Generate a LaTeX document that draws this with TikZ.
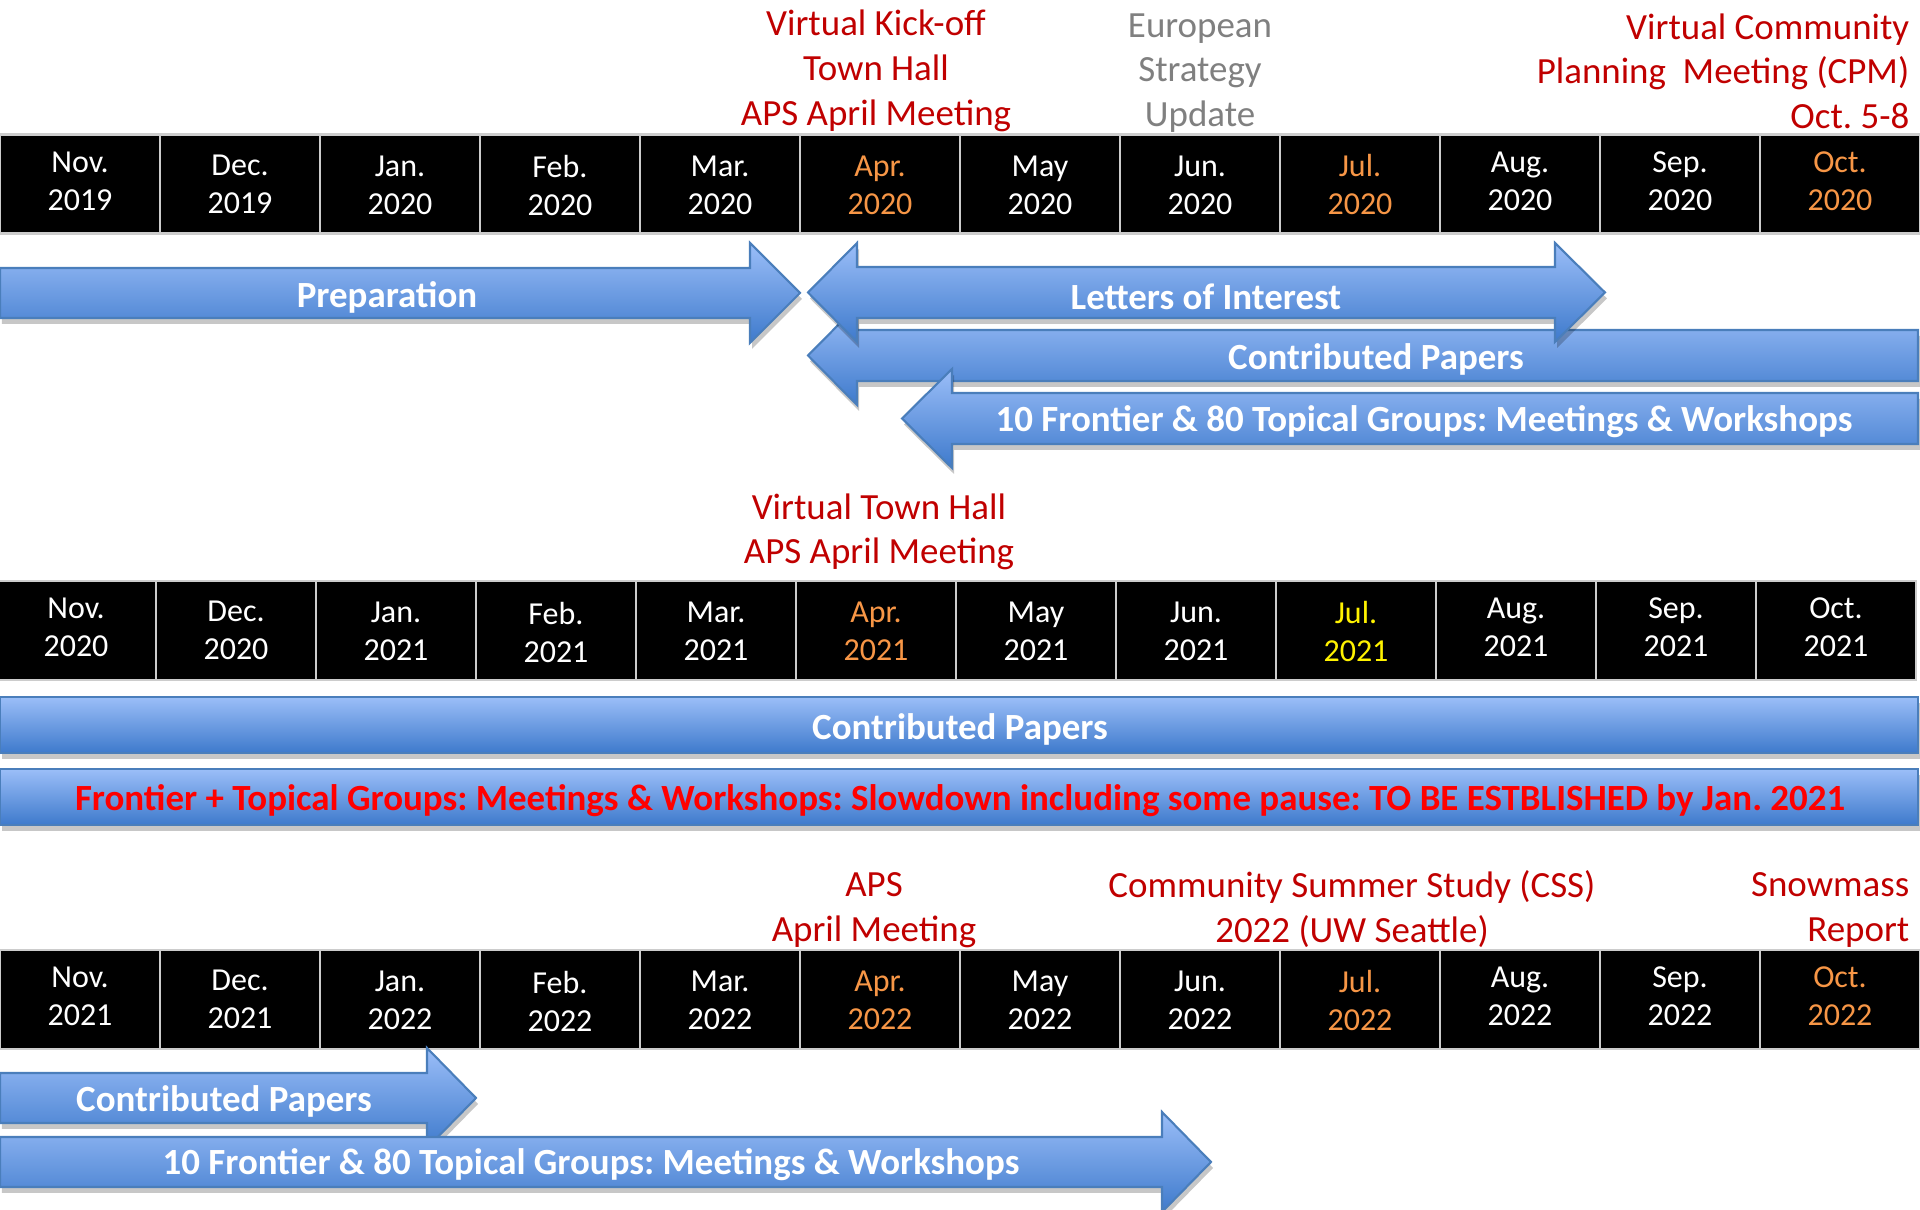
\documentclass[tikz,border=0pt]{standalone}
\usepackage{fontspec}
\setmainfont{Carlito}
\usepackage{tikz}
\definecolor{barTop}{RGB}{155,190,248}
\definecolor{barBot}{RGB}{62,122,204}
\definecolor{barLine}{RGB}{74,126,187}
\definecolor{evRed}{RGB}{192,0,0}
\definecolor{evGray}{RGB}{128,128,128}
\definecolor{monOrange}{RGB}{247,150,70}
\frenchspacing

\begin{document}
\begin{tikzpicture}[x=0.01cm,y=-0.01cm,
  cell/.style={fill=black, draw=white!80!black, line width=0.8pt, minimum width=1.6cm, minimum height=0.99cm, inner sep=0pt},
  mon/.style={text=white, align=center, font=\fontsize{9.1}{10.8}\selectfont, inner sep=0pt},
  event/.style={text=evRed, align=center, font=\fontsize{10.5}{12.7}\selectfont, inner sep=0pt},
  band/.style={top color=barTop, bottom color=barBot, draw=barLine, line width=0.6pt,
    preaction={fill=black, fill opacity=0.22, transform canvas={shift={(2,6)}}}},
  bandtext/.style={text=white, font=\bfseries\fontsize{10.5}{12.7}\selectfont, inner sep=0pt}]
\useasboundingbox (0,0) rectangle (1920,1210);
\clip (0,0) rectangle (1920,1210);

% 2019--2020
\node [event] (ev-kick) at (876,71) {Virtual Kick-off\\Town Hall\\APS April Meeting};
\node [event, text=evGray] (ev-esu) at (1200,73) {European\\Strategy\\Update};
\node [event, anchor=east, align=right] (ev-cpm) at (1910,71) {Virtual Community\\Planning~ Meeting (CPM)\\Oct. 5-8};
\foreach \i/\m/\yr/\col/\dy in {0/Nov./2019/white/-3, 1/Dec./2019/white/0, 2/Jan./2020/white/1,
    3/Feb./2020/white/2, 4/Mar./2020/white/1, 5/Apr./2020/monOrange/1, 6/May/2020/white/1,
    7/Jun./2020/white/1, 8/Jul./2020/monOrange/1, 9/Aug./2020/white/-3, 10/Sep./2020/white/-3,
    11/Oct./2020/monOrange/-3}{
  \node [cell] (a\i) at (\i*160+80,184) {};
  \node [mon, text=\col] (ta\i) at (\i*160+80,184+\dy) {\m\\\yr};
}
\shade [band] (1918,330) -- (857,330) -- (857,306) -- (808,355.5) -- (857,405) -- (857,381) -- (1918,381) -- cycle;
\shade [band] (1918,393) -- (952,393) -- (952,369) -- (902,418.5) -- (952,468) -- (952,444) -- (1918,444) -- cycle;
\shade [band] (857,267) -- (1555,267) -- (1555,243) -- (1605,292.5) -- (1555,342) -- (1555,318)
  -- (857,318) -- (857,342) -- (808,292.5) -- (857,243) -- cycle;
\shade [band] (0,268) -- (750,268) -- (750,243) -- (800,293) -- (750,343) -- (750,318) -- (0,318) -- cycle;
\node [bandtext] (prep) at (387,297) {Preparation};
\node [bandtext] (loi) at (1206,297) {Letters of Interest};
\node [bandtext] (cp-a) at (1376,359) {Contributed Papers};
\node [bandtext] (grp-a) at (1424,422) {10 Frontier \& 80 Topical Groups: Meetings \& Workshops};

% 2020--2021
\node [event] (ev-th) at (879,532) {Virtual Town Hall\\APS April Meeting};
\foreach \i/\m/\yr/\col/\dy in {0/Nov./2020/white/-3, 1/Dec./2020/white/0, 2/Jan./2021/white/1,
    3/Feb./2021/white/2, 4/Mar./2021/white/1, 5/Apr./2021/monOrange/1, 6/May/2021/white/1,
    7/Jun./2021/white/1, 8/Jul./2021/yellow/1, 9/Aug./2021/white/-3, 10/Sep./2021/white/-3,
    11/Oct./2021/white/-3}{
  \node [cell] (b\i) at (\i*160+76,630.5) {};
  \node [mon, text=\col] (tb\i) at (\i*160+76,630.5+\dy) {\m\\\yr};
}
\shade [band] (0,697) rectangle (1918,753);
\shade [band] (0,769) rectangle (1918,825);
\node [bandtext] (cp-b) at (960,729) {Contributed Papers};
\node [bandtext, text=red] (grp-b) at (960,801) {Frontier + Topical Groups: Meetings \& Workshops: Slowdown including some pause: TO BE ESTBLISHED by Jan. 2021};

% 2021--2022
\node [event] (ev-aps) at (874,910) {APS\\April Meeting};
\node [event] (ev-css) at (1352,909) {Community Summer Study (CSS)\\2022 (UW Seattle)};
\node [event, anchor=east, align=right] (ev-rep) at (1910,910) {Snowmass\\Report};
\foreach \i/\m/\yr/\col/\dy in {0/Nov./2021/white/-3, 1/Dec./2021/white/0, 2/Jan./2022/white/1,
    3/Feb./2022/white/2, 4/Mar./2022/white/1, 5/Apr./2022/monOrange/1, 6/May/2022/white/1,
    7/Jun./2022/white/1, 8/Jul./2022/monOrange/1, 9/Aug./2022/white/-3, 10/Sep./2022/white/-3,
    11/Oct./2022/monOrange/-3}{
  \node [cell] (c\i) at (\i*160+80,999.5) {};
  \node [mon, text=\col] (tc\i) at (\i*160+80,999.5+\dy) {\m\\\yr};
}
\shade [band] (0,1073) -- (427,1073) -- (427,1048) -- (476,1098) -- (427,1148) -- (427,1123) -- (0,1123) -- cycle;
\shade [band] (0,1137) -- (1162,1137) -- (1162,1112) -- (1211,1162) -- (1162,1212) -- (1162,1187) -- (0,1187) -- cycle;
\node [bandtext] (cp-c) at (224,1101) {Contributed Papers};
\node [bandtext] (grp-c) at (591,1165) {10 Frontier \& 80 Topical Groups: Meetings \& Workshops};
\end{tikzpicture}
\end{document}
